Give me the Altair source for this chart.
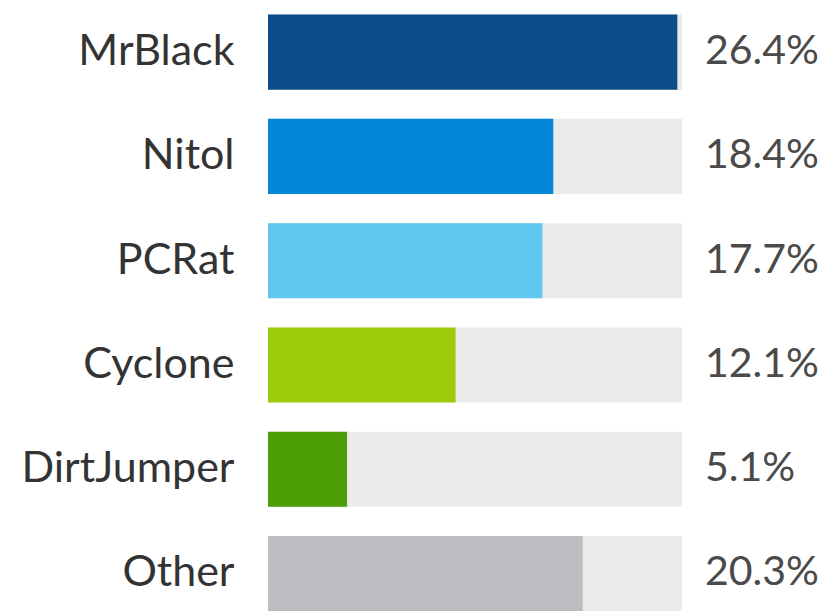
import altair as alt
import pandas as pd

names = ["MrBlack", "Nitol", "PCRat", "Cyclone", "DirtJumper", "Other"]
shares = [26.4, 18.4, 17.7, 12.1, 5.1, 20.3]
labels = ["26.4%", "18.4%", "17.7%", "12.1%", "5.1%", "20.3%"]
colors = ["#0b4c8a", "#0288d6", "#5ec6ef", "#9ccc0c", "#4e9e08", "#bcbdc0"]
track_max = 26.7

df = pd.DataFrame({
    "name": names,
    "share": shares,
    "label": labels,
    "track": [track_max] * len(names),
})

y_enc = alt.Y(
    "name:N",
    sort=names,
    title=None,
    scale=alt.Scale(paddingInner=0.28, paddingOuter=0.07, align=1),
    axis=alt.Axis(
        labelFont="Lato",
        labelFontSize=43,
        labelColor="#333333",
        labelPadding=34,
        labelLimit=400,
        ticks=False,
        domain=False,
        grid=False,
    ),
)
x_scale = alt.Scale(domain=[0, track_max], nice=False, zero=True)

track = alt.Chart(df).mark_bar(color="#ebebeb").encode(
    y=y_enc,
    x=alt.X("track:Q", scale=x_scale, axis=None),
)

bars = alt.Chart(df).mark_bar().encode(
    y=y_enc,
    x=alt.X("share:Q", scale=x_scale, axis=None),
    color=alt.Color("name:N", scale=alt.Scale(domain=names, range=colors), legend=None),
)

values = alt.Chart(df).mark_text(
    align="left", baseline="middle", dx=23, font="Lato", fontSize=41, color="#4a4a4a"
).encode(
    y=y_enc,
    x=alt.X("track:Q", scale=x_scale, axis=None),
    text="label:N",
)

chart = (
    alt.layer(track, bars, values)
    .properties(
        width=414,
        height=611,
        autosize=alt.AutoSizeParams(type="none"),
        padding={"left": 268, "top": 0, "right": 145, "bottom": 0},
        background="white",
    )
    .configure_view(stroke=None)
)

chart.save("out.html", embed_options={"renderer": "svg", "actions": False})
